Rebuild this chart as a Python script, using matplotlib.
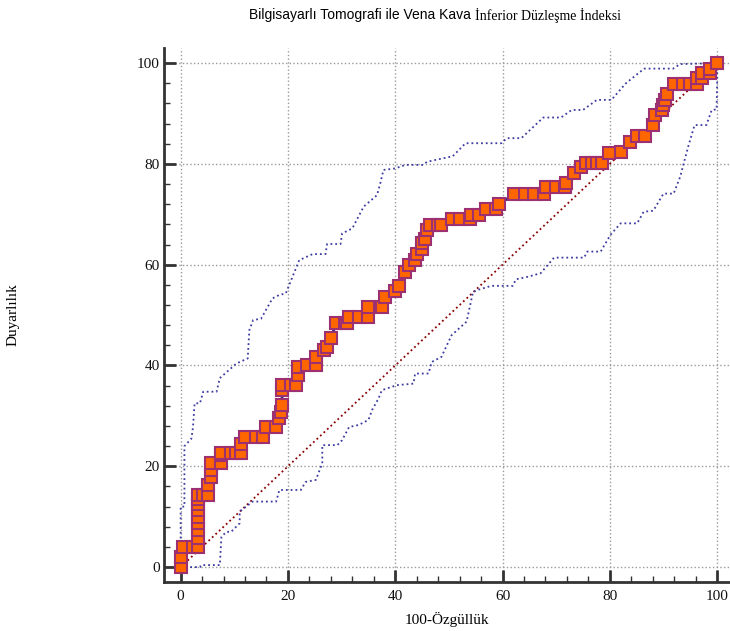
import matplotlib
matplotlib.use('Agg')
import matplotlib.pyplot as plt
from matplotlib.ticker import MultipleLocator

# ROC noktalari (100-Ozgulluk, Duyarlilik)
roc_fpr = [0, 0, 0.4, 2.3, 3.3, 3.3, 3.3, 3.3, 3.3, 3.3, 3.3, 3.3, 3.3, 4.2, 5.1, 5.1,
           5.7, 5.7, 5.7, 7.6, 7.6, 7.6, 9.4, 10.4, 11.3, 11.3, 11.9, 14.1, 15.3, 15.9,
           17.8, 18.4, 18.7, 18.9, 18.9, 18.9, 20.5, 21.5, 21.8, 21.8, 23.6, 25.2, 25.2,
           26.7, 27.3, 28.0, 29.0, 30.6, 31.0, 31.4, 33.2, 35.0, 35.0, 37.5, 38.0, 39.9,
           40.7, 41.9, 42.5, 43.7, 44.0, 44.9, 44.9, 45.6, 45.9, 46.5, 48.0, 48.6, 50.5,
           52.0, 53.9, 54.2, 55.7, 57.0, 58.8, 59.4, 62.1, 64.1, 65.9, 67.8, 68.1, 69.9,
           71.6, 71.8, 73.3, 74.6, 75.5, 76.7, 77.6, 78.6, 79.8, 82.0, 83.7, 85.0, 86.6,
           88.1, 88.4, 89.7, 90.0, 90.3, 90.6, 91.9, 93.7, 94.9, 96.2, 96.2, 97.1, 97.1,
           98.6, 98.6, 100]
roc_sens = [0, 2.0, 3.9, 3.9, 3.9, 5.7, 7.3, 8.7, 10.0, 11.3, 12.6, 13.6, 14.3, 14.3, 14.3, 16.3,
            17.9, 19.2, 20.6, 20.6, 22.2, 22.6, 22.6, 22.6, 22.6, 24.5, 25.9, 25.9, 25.9, 27.8,
            27.8, 29.5, 30.8, 32.1, 35.1, 36.1, 36.1, 36.1, 38.1, 39.7, 40.1, 40.1, 41.7,
            43.1, 43.7, 45.4, 48.4, 48.4, 48.4, 49.6, 49.6, 49.6, 51.6, 51.6, 53.6, 54.8,
            55.8, 58.6, 59.9, 60.9, 62.2, 63.2, 64.3, 65.0, 66.9, 67.9, 67.9, 67.9, 69.0,
            69.0, 69.0, 69.8, 69.8, 71.0, 71.0, 72.0, 74.0, 74.0, 74.0, 74.0, 75.4, 75.4,
            75.4, 76.3, 78.2, 79.4, 80.2, 80.2, 80.2, 80.2, 82.1, 82.4, 84.4, 85.5, 85.5,
            87.7, 89.7, 90.7, 91.7, 92.7, 93.8, 95.8, 95.8, 95.8, 95.8, 97.0, 97.0, 98.0,
            98.0, 98.9, 100]

# guven araligi ust sinir
ust_x = [0, 0, 0.7, 0.7, 2.0, 2.3, 2.6, 3.6, 4.2, 6.7, 7.3, 10.4, 12.5, 12.8, 13.5, 15.0,
         17.1, 18.4, 19.6, 22.1, 24.6, 27.0, 27.3, 29.8, 30.1, 32.0, 34.1, 36.6, 37.2, 37.8,
         40.0, 41.9, 45.2, 45.9, 48.0, 50.7, 53.1, 59.8, 60.8, 63.5, 67.6, 70.9, 72.9, 75.0,
         77.6, 80.3, 83.0, 86.4, 91.8, 93.1, 100]
ust_y = [0, 12.0, 12.0, 24.0, 25.5, 27.8, 32.5, 32.5, 34.8, 34.8, 37.5, 40.4, 41.4, 47.0, 49.0, 49.3,
         53.3, 54.0, 54.3, 60.9, 62.1, 62.1, 64.1, 64.1, 66.2, 67.2, 71.5, 73.8, 76.1, 78.8,
         79.1, 79.8, 79.8, 80.4, 80.9, 81.5, 84.1, 84.1, 85.1, 85.1, 89.2, 89.2, 90.7, 90.7,
         92.7, 92.7, 96.0, 98.9, 98.9, 99.8, 100]

# guven araligi alt sinir
alt_x = [0, 3.6, 3.8, 7.3, 7.6, 8.5, 9.4, 11.0, 11.0, 13.4, 17.8, 18.4, 22.4, 23.3, 25.2, 26.4,
         26.4, 29.2, 30.1, 31.4, 33.2, 35.0, 35.7, 36.9, 37.5, 40.3, 43.4, 43.7, 46.2, 46.8,
         48.6, 50.5, 53.3, 54.5, 55.4, 57.9, 61.9, 62.5, 64.7, 67.1, 69.6, 75.2, 75.8, 78.3,
         80.1, 82.0, 85.1, 86.3, 88.1, 90.0, 91.9, 93.1, 94.6, 95.8, 98.0, 99.0, 99.9, 100, 100]
alt_y = [0, 0, 0.4, 0.4, 6.0, 7.0, 7.0, 8.7, 11.0, 13.0, 13.0, 15.3, 15.3, 16.9, 17.3, 20.6,
         24.2, 24.2, 25.2, 27.8, 28.2, 29.2, 31.2, 33.5, 35.1, 36.1, 36.4, 38.4, 38.4, 40.7,
         41.7, 46.0, 48.7, 54.6, 55.0, 55.8, 55.8, 57.1, 57.6, 58.3, 61.4, 61.4, 62.6, 62.6,
         65.9, 68.2, 68.2, 70.5, 70.7, 74.1, 74.1, 77.4, 83.4, 87.7, 87.7, 90.7, 90.8, 96.0, 100]

baslik_a = "Bilgisayarlı Tomografi ile Vena Kava"
baslik_b = "İnferior Düzleşme İndeksi"

serif = 'Liberation Serif'
koyu = '#333333'

fig = plt.figure(figsize=(7.3, 6.31), dpi=100)
ax = fig.add_axes([0.2247, 0.0781, 0.7753, 0.8459])

ax.plot([0, 100], [0, 100], color='#8b0000', ls=':', lw=1.3, zorder=2)
ax.plot(ust_x, ust_y, color='#3b3ba0', ls=':', lw=1.3, zorder=2)
ax.plot(alt_x, alt_y, color='#3b3ba0', ls=':', lw=1.3, zorder=2)
ax.plot(roc_fpr, roc_sens, color='#2b2b8f', lw=2, zorder=3)
ax.plot(roc_fpr, roc_sens, ls='none', marker='s', markersize=8.6,
        markerfacecolor='#ff6600', markeredgecolor='#9c3070', markeredgewidth=1.5, zorder=4)

# sag kenarda "100" etiketi sigsin diye biraz daha genis aralik
ax.set_xlim(-3.1, 102.4)
ax.set_ylim(-2.9, 103.0)

ax.xaxis.set_major_locator(MultipleLocator(20))
ax.xaxis.set_minor_locator(MultipleLocator(4))
ax.yaxis.set_major_locator(MultipleLocator(20))
ax.yaxis.set_minor_locator(MultipleLocator(4))

ax.grid(True, which='major', color='#9a9a9a', ls=':', lw=1.0, zorder=0)
ax.set_axisbelow(True)

for s in ['top', 'right']:
    ax.spines[s].set_visible(False)
for s in ['left', 'bottom']:
    ax.spines[s].set_linewidth(2)
    ax.spines[s].set_color(koyu)

ax.tick_params(which='major', direction='in', length=8.5, width=2, color=koyu)
ax.tick_params(which='minor', direction='in', length=4.3, width=1, color=koyu)
ax.tick_params(axis='x', which='major', pad=6)
ax.tick_params(axis='y', which='major', pad=3)
for lab in ax.get_xticklabels() + ax.get_yticklabels():
    lab.set_family(serif)
    lab.set_fontsize(11)
    lab.set_color('#111111')

ax.set_xlabel('100-Özgüllük', family=serif, fontsize=11, labelpad=6)
ax.set_ylabel('Duyarlılık', family=serif, fontsize=11)
ax.yaxis.set_label_coords(-0.255, 0.5)

# baslik: iki farkli yazi tipi yan yana
t1 = fig.text(0, 0.976, baslik_a, family='Liberation Sans', fontsize=10, va='center', ha='left')
t2 = fig.text(0, 0.976, baslik_b, family=serif, fontsize=10, va='center', ha='left')
r = fig.canvas.get_renderer()
w1 = t1.get_window_extent(r).width
w2 = t2.get_window_extent(r).width
bas = 435 - (w1 + 4 + w2) / 2
t1.set_x(bas / 730)
t2.set_x((bas + w1 + 4) / 730)

fig.savefig('out.png', dpi=100)
